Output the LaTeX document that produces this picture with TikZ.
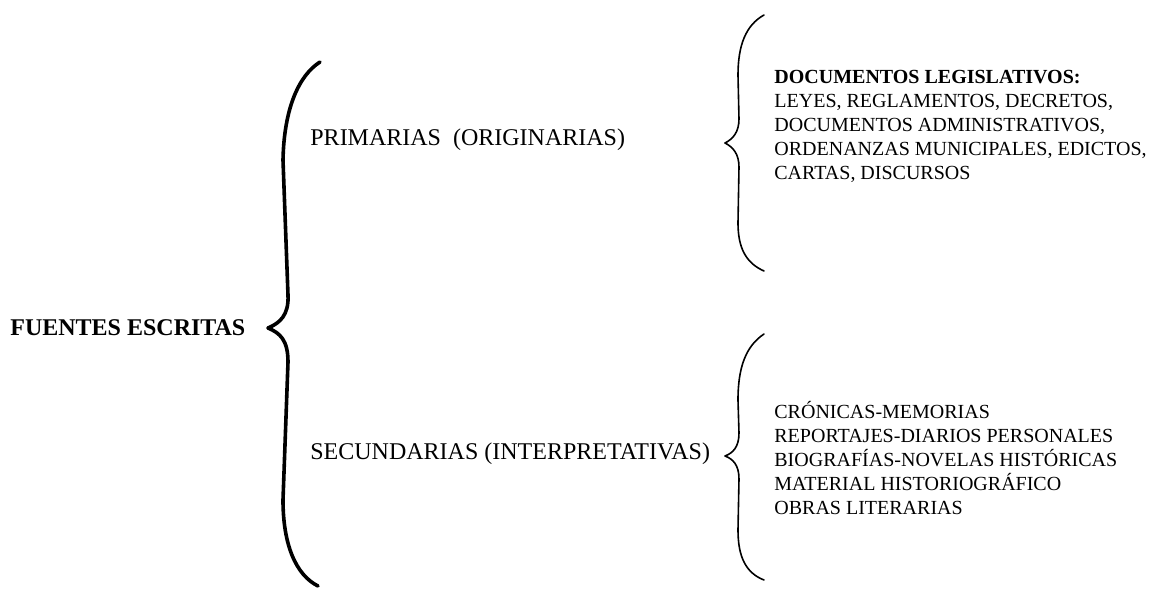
\documentclass[tikz,border=0pt]{standalone}
\usepackage{fontspec}
\setmainfont{Liberation Serif}

\tikzset{
  titulo/.style={anchor=west, inner sep=0pt, font=\fontsize{12}{14.4}\selectfont},
  lista/.style={anchor=west, inner sep=0pt, align=left, font=\fontsize{10}{12}\selectfont},
  llave/.style={line width=0.8pt, line cap=round, line join=round},
  llavegruesa/.style={llave, line width=1.8pt}
}

\begin{document}
\begin{tikzpicture}[x=0.5pt, y=-0.5pt]
\useasboundingbox (0,0) rectangle (1175,589);

% textos
\node[titulo, font=\fontsize{12}{14.4}\selectfont\bfseries] (fuentes) at (10,328) {FUENTES ESCRITAS};
\node[titulo] (primarias) at (310,140) {PRIMARIAS~~(ORIGINARIAS)};
\node[titulo] (secundarias) at (310,454) {SECUNDARIAS (INTERPRETATIVAS)};
\node[lista] (legislativos) at (774,126) {\textbf{DOCUMENTOS LEGISLATIVOS:}\\
  LEYES, REGLAMENTOS, DECRETOS,\\
  DOCUMENTOS ADMINISTRATIVOS,\\
  ORDENANZAS MUNICIPALES, EDICTOS,\\
  CARTAS, DISCURSOS};
\node[lista] (cronicas) at (774,458) {CRÓNICAS-MEMORIAS\\
  REPORTAJES-DIARIOS PERSONALES\\
  BIOGRAFÍAS-NOVELAS HISTÓRICAS\\
  MATERIAL HISTORIOGRÁFICO\\
  OBRAS LITERARIAS};

% puntas y extremos de las llaves
\coordinate (g-top) at (320,62);
\coordinate (g-tip) at (268,328);
\coordinate (g-bot) at (318,586);
\coordinate (p-top) at (764,15);
\coordinate (p-tip) at (725,143);
\coordinate (p-bot) at (764,271);
\coordinate (s-top) at (764,334);
\coordinate (s-tip) at (725,456);
\coordinate (s-bot) at (764,580);

% llave grande
\draw[llavegruesa] (g-top) .. controls +(-22,14) and +(1,-50) .. (283,160) -- (288,295)
  .. controls +(1,20) and +(12,-5) .. (g-tip)
  .. controls +(12,5) and +(0,-22) .. (288,362) -- (283,500)
  .. controls +(0,45) and +(-22,-11) .. (g-bot);

% llaves de la derecha
\draw[llave] (p-top) .. controls +(-18,10) and +(0,-30) .. (738,75) -- (739,119)
  .. controls +(0,13) and +(8,-4) .. (p-tip)
  .. controls +(8,4) and +(0,-13) .. (739,167) -- (738,223)
  .. controls +(0,25) and +(-18,-8) .. (p-bot);
\draw[llave] (s-top) .. controls +(-18,12) and +(0,-33) .. (738,400) -- (739,433)
  .. controls +(0,14) and +(8,-3) .. (s-tip)
  .. controls +(8,3) and +(0,-14) .. (739,479) -- (738,530)
  .. controls +(0,27) and +(-18,-7) .. (s-bot);
\end{tikzpicture}
\end{document}
